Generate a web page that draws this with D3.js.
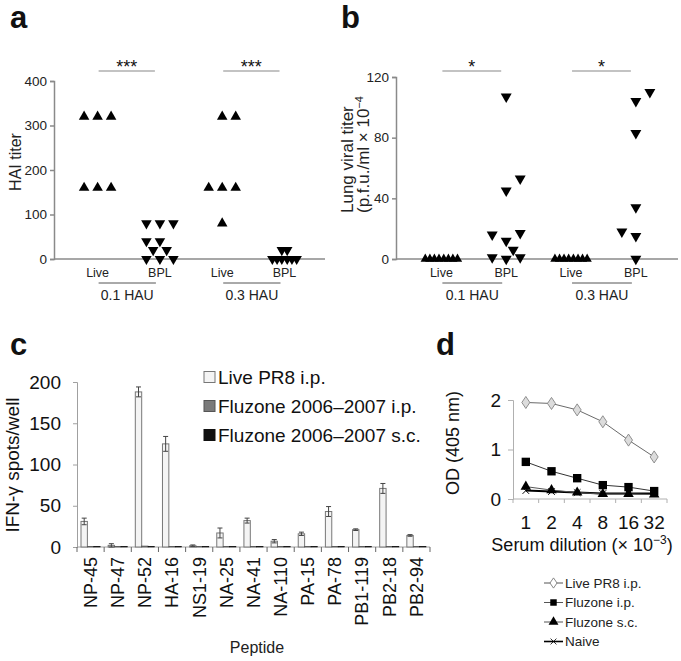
<!DOCTYPE html>
<html><head><meta charset="utf-8">
<script src="https://cdn.jsdelivr.net/npm/d3@7"></script>
<style>
html,body{margin:0;padding:0;background:#fff;}
svg{display:block;font-family:"Liberation Sans",Arial,Helvetica,sans-serif;}
</style></head>
<body><svg id="chart" width="681" height="661"></svg>
<script>
// ---------- Panel a: HAI titer ----------
const groupsAB = ["Live", "BPL", "Live", "BPL"];
const doseLabels = ["0.1 HAU", "0.3 HAU"];
const haiTicks = [0, 100, 200, 300, 400];
const haiLive01 = [320, 320, 320, 160, 160, 160];
const haiLive01Col = [-1, 0, 1, -1, 0, 1];
const haiBPL01 = [80, 80, 80, 40, 40, 20, 20, 0, 0, 0];
const haiBPL01Col = [-1, 0, 1, -1, 0, -0.5, 0.5, -1, 0, 1];
const haiLive03 = [320, 320, 160, 160, 160, 80];
const haiLive03Col = [0, 1, -1, 0, 1, 0];
const haiBPL03 = [20, 20, 0, 0, 0, 0, 0, 0];
const haiBPL03Col = [-0.2, 0.2, -0.9, -0.55, -0.2, 0.2, 0.55, 0.9];
const sigA = ["***", "***"];

// ---------- Panel b: Lung viral titer ----------
const lungTicks = [0, 40, 80, 120];
const lungLive01 = [0, 0, 0, 0, 0, 0, 0, 0];
const lungLive01Col = [-1.15, -0.82, -0.5, -0.17, 0.17, 0.5, 0.82, 1.15];
const lungBPL01 = [107, 45, 53, 16, 12, 6, 17, 1, 0, 1];
const lungBPL01Col = [0, 0, 1, -1, 0, 0.5, 1, -1, 0, 1];
const lungLive03 = [0, 0, 0, 0, 0, 0, 0, 0];
const lungLive03Col = [-1.15, -0.82, -0.5, -0.17, 0.17, 0.5, 0.82, 1.15];
const lungBPL03 = [110, 104, 83, 34, 18, 15, 0];
const lungBPL03Col = [1, 0, 0, 0, -1, 0, 0];
const sigB = ["*", "*"];

// ---------- Panel c: IFN-gamma ELISPOT ----------
const peptides = ["NP-45","NP-47","NP-52","HA-16","NS1-19","NA-25","NA-41","NA-110","PA-15","PA-78","PB1-119","PB2-18","PB2-94"];
const seriesC = ["Live PR8 i.p.", "Fluzone 2006\u20132007 i.p.", "Fluzone 2006\u20132007 s.c."];
const liveC = [31, 2, 188, 125, 1.5, 17, 32, 7, 16, 43, 21, 71, 14];
const liveCErr = [4, 2, 6, 9, 1, 6, 3, 2, 2, 6, 1, 6, 1];
const ipC = [0.5, 0.5, 1.2, 0.5, 0.5, 0.5, 0.5, 0.5, 0.5, 0.5, 0.5, 0.5, 0.5];
const scC = [0.5, 0.5, 0.5, 0.5, 0.5, 0.5, 0.5, 0.5, 0.5, 0.5, 0.5, 0.5, 0.5];
const ticksC = [0, 50, 100, 150, 200];

// ---------- Panel d: ELISA ----------
const dilutions = ["1", "2", "4", "8", "16", "32"];
const seriesD = ["Live PR8 i.p.", "Fluzone i.p.", "Fluzone s.c.", "Naive"];
const odLive = [1.95, 1.93, 1.80, 1.56, 1.19, 0.85];
const odFluIP = [0.75, 0.56, 0.42, 0.28, 0.24, 0.16];
const odFluSC = [0.25, 0.18, 0.13, 0.10, 0.10, 0.09];
const odNaive = [0.17, 0.15, 0.13, 0.11, 0.11, 0.11];
const ticksD = [0, 1, 2];

const svg = d3.select("#chart");
const FONT = '"Liberation Sans",Arial,Helvetica,sans-serif';

function panelLabel(t, x, y) {
  svg.append("text").attr("x", x).attr("y", y).attr("font-size", 31)
    .attr("font-weight", "bold").attr("fill", "#111").text(t);
}
panelLabel("a", 10, 28);
panelLabel("b", 341, 28);
panelLabel("c", 10, 355);
panelLabel("d", 436, 355);

// ---------- dot plot helper for a & b ----------
function dotPanel(opt) {
  const g = svg.append("g");
  const x = d3.scaleLinear().domain([-0.7, 3.65]).range(opt.xr);
  const y = d3.scaleLinear().domain([0, opt.ymax]).range([259, opt.ytop]);
  const axisCol = "#8a8a8a";
  const ya = g.append("g").attr("transform", `translate(${opt.xr[0]},0)`)
    .call(d3.axisLeft(y).tickValues(opt.ticks).tickSize(4).tickPadding(3));
  ya.select(".domain").attr("stroke", axisCol).attr("stroke-width", 1.5);
  ya.selectAll(".tick line").attr("stroke", axisCol).attr("stroke-width", 1.5);
  ya.selectAll(".tick text").attr("font-size", 13.5).attr("font-family", FONT).attr("fill", "#222");
  g.append("line").attr("x1", opt.xr[0]).attr("x2", opt.xr[1]).attr("y1", y(0)).attr("y2", y(0))
    .attr("stroke", axisCol).attr("stroke-width", 1.5);
  groupsAB.forEach((t, i) => {
    g.append("text").attr("x", x(i)).attr("y", 277).attr("text-anchor", "middle")
      .attr("font-size", 12.5).attr("font-family", FONT).attr("fill", "#222").text(t);
  });
  doseLabels.forEach((t, k) => {
    const x0 = x(2 * k) + 1, x1 = x(2 * k + 1) - 4;
    g.append("line").attr("x1", x0).attr("x2", x1).attr("y1", 283).attr("y2", 283)
      .attr("stroke", "#555").attr("stroke-width", 1);
    g.append("text").attr("x", (x0 + x1) / 2).attr("y", 300).attr("text-anchor", "middle")
      .attr("font-size", 14).attr("font-family", FONT).attr("fill", "#222").text(t);
  });
  opt.sig.forEach((t, k) => {
    const x0 = x(2 * k) + 1, x1 = x(2 * k + 1) - 5;
    g.append("line").attr("x1", x0).attr("x2", x1).attr("y1", 71).attr("y2", 71)
      .attr("stroke", "#888").attr("stroke-width", 1.2);
    g.append("text").attr("x", (x0 + x1) / 2).attr("y", 73).attr("text-anchor", "middle")
      .attr("font-size", 18).attr("font-family", FONT).attr("fill", "#111").text(t);
  });
  opt.sets.forEach(s => {
    const sym = d3.symbol().type(d3.symbolTriangle).size(s.size)();
    s.vals.forEach((v, i) => {
      const cx = x(s.group) + s.cols[i] * opt.colW;
      const cy = y(v);
      g.append("path").attr("d", sym)
        .attr("transform", `translate(${cx},${cy})` + (s.down ? " rotate(180)" : ""))
        .attr("fill", "#000");
    });
  });
  opt.ylab(g);
}

dotPanel({
  xr: [54, 325], ymax: 400, ytop: 81, ticks: haiTicks, sig: sigA, colW: 13.5,
  sets: [
    {group: 0, vals: haiLive01, cols: haiLive01Col, down: false, size: 48},
    {group: 1, vals: haiBPL01, cols: haiBPL01Col, down: true, size: 48},
    {group: 2, vals: haiLive03, cols: haiLive03Col, down: false, size: 48},
    {group: 3, vals: haiBPL03, cols: haiBPL03Col, down: true, size: 48}
  ],
  ylab: g => g.append("text").attr("transform", "translate(21,162) rotate(-90)")
    .attr("text-anchor", "middle").attr("font-size", 16).attr("font-family", FONT)
    .attr("fill", "#222").text("HAI titer")
});

dotPanel({
  xr: [396, 678], ymax: 120, ytop: 77, ticks: lungTicks, sig: sigB, colW: 14,
  sets: [
    {group: 0, vals: lungLive01, cols: lungLive01Col, down: false, size: 38},
    {group: 1, vals: lungBPL01, cols: lungBPL01Col, down: true, size: 52},
    {group: 2, vals: lungLive03, cols: lungLive03Col, down: false, size: 38},
    {group: 3, vals: lungBPL03, cols: lungBPL03Col, down: true, size: 52}
  ],
  ylab: g => {
    g.append("text").attr("transform", "translate(353,213) rotate(-90)")
      .attr("text-anchor", "start").attr("font-size", 17).attr("font-family", FONT)
      .attr("fill", "#222").text("Lung viral titer");
    const t = g.append("text").attr("transform", "translate(369,213) rotate(-90)")
      .attr("text-anchor", "start").attr("font-size", 17).attr("font-family", FONT)
      .attr("fill", "#222");
    t.append("tspan").text("(p.f.u./ml \u00d7 10");
    t.append("tspan").attr("dy", -6).attr("font-size", 11).text("\u22124");
  }
});

// ---------- Panel c ----------
{
  const g = svg.append("g");
  const x0 = d3.scaleBand().domain(peptides).range([77, 430]).padding(0);
  const bw = x0.bandwidth();
  const x1 = d3.scaleBand().domain(seriesC).range([4, bw - 4]).padding(0);
  const y = d3.scaleLinear().domain([0, 200]).range([547, 382]);
  const axisCol = "#a0a0a0";
  const ya = g.append("g").attr("transform", "translate(77,0)")
    .call(d3.axisLeft(y).tickValues(ticksC).tickSize(4).tickPadding(12));
  ya.select(".domain").attr("stroke", axisCol);
  ya.selectAll(".tick line").attr("stroke", axisCol);
  ya.selectAll(".tick text").attr("font-size", 19).attr("font-family", FONT).attr("fill", "#111");
  g.append("line").attr("x1", 77).attr("x2", 430).attr("y1", y(0)).attr("y2", y(0)).attr("stroke", axisCol);
  peptides.concat(["_end"]).forEach((p, i) => {
    const xx = 77 + i * bw;
    g.append("line").attr("x1", xx).attr("x2", xx).attr("y1", y(0)).attr("y2", y(0) + 5).attr("stroke", "#666");
  });
  const colors = {fill: ["#f4f4f4", "#7a7a7a", "#111"], stroke: ["#777", "#555", "#111"]};
  const vals = [liveC, ipC, scC];
  seriesC.forEach((s, k) => {
    peptides.forEach((p, i) => {
      const v = vals[k][i];
      g.append("rect").attr("x", x0(p) + x1(s)).attr("width", x1.bandwidth())
        .attr("y", y(v)).attr("height", y(0) - y(v))
        .attr("fill", colors.fill[k]).attr("stroke", colors.stroke[k]).attr("stroke-width", k === 0 ? 1 : 0.6);
    });
  });
  peptides.forEach((p, i) => {
    const cx = x0(p) + x1(seriesC[0]) + x1.bandwidth() / 2;
    const hi = y(liveC[i] + liveCErr[i]), lo = y(Math.max(0, liveC[i] - liveCErr[i]));
    g.append("line").attr("x1", cx).attr("x2", cx).attr("y1", hi).attr("y2", lo).attr("stroke", "#444");
    [hi, lo].forEach(yy => g.append("line").attr("x1", cx - 2.5).attr("x2", cx + 2.5)
      .attr("y1", yy).attr("y2", yy).attr("stroke", "#444"));
  });
  peptides.forEach(p => {
    g.append("text").attr("transform", `translate(${x0(p) + bw / 2},557) rotate(-90)`)
      .attr("text-anchor", "end").attr("dy", "0.35em").attr("font-size", 18)
      .attr("font-family", FONT).attr("fill", "#111").text(p);
  });
  g.append("text").attr("x", 257).attr("y", 653).attr("text-anchor", "middle")
    .attr("font-size", 16).attr("font-family", FONT).attr("fill", "#222").text("Peptide");
  g.append("text").attr("transform", "translate(19,465) rotate(-90)").attr("text-anchor", "middle")
    .attr("font-size", 19).attr("font-family", FONT).attr("fill", "#111").text("IFN-\u03b3 spots/well");
  seriesC.forEach((s, k) => {
    const cy = 377 + k * 29;
    g.append("rect").attr("x", 204).attr("y", cy - 5.5).attr("width", 11).attr("height", 11)
      .attr("fill", colors.fill[k]).attr("stroke", colors.stroke[k]);
    g.append("text").attr("x", 218).attr("y", cy + 7).attr("font-size", 19)
      .attr("font-family", FONT).attr("fill", "#111").text(s);
  });
}

// ---------- Panel d ----------
{
  const g = svg.append("g");
  const x = d3.scaleBand().domain(dilutions).range([513, 667]).padding(0);
  const bw = x.bandwidth();
  const y = d3.scaleLinear().domain([0, 2]).range([499, 400]);
  const axisCol = "#b0b0b0";
  const ya = g.append("g").attr("transform", "translate(513,0)")
    .call(d3.axisLeft(y).tickValues(ticksD).tickFormat(d3.format("d")).tickSize(5).tickPadding(7));
  ya.select(".domain").attr("stroke", axisCol);
  ya.selectAll(".tick line").attr("stroke", axisCol);
  ya.selectAll(".tick text").attr("font-size", 19).attr("font-family", FONT).attr("fill", "#111");
  g.append("line").attr("x1", 513).attr("x2", 667).attr("y1", y(0)).attr("y2", y(0)).attr("stroke", axisCol);
  dilutions.concat(["_e"]).forEach((dd, i) => {
    const xx = 513 + i * bw;
    g.append("line").attr("x1", xx).attr("x2", xx).attr("y1", y(0)).attr("y2", y(0) + 4).attr("stroke", axisCol);
  });
  dilutions.forEach(dd => {
    g.append("text").attr("x", x(dd) + bw / 2).attr("y", 529).attr("text-anchor", "middle")
      .attr("font-size", 19).attr("font-family", FONT).attr("fill", "#111").text(dd);
  });
  const xl = g.append("text").attr("x", 582).attr("y", 551).attr("text-anchor", "middle")
    .attr("font-size", 18).attr("font-family", FONT).attr("fill", "#111");
  xl.append("tspan").text("Serum dilution (\u00d7 10");
  xl.append("tspan").attr("dy", -7).attr("font-size", 12).text("\u22123");
  xl.append("tspan").attr("dy", 7).text(")");
  g.append("text").attr("transform", "translate(459,443) rotate(-90)").attr("text-anchor", "middle")
    .attr("font-size", 18).attr("font-family", FONT).attr("fill", "#111").text("OD (405 nm)");

  const cfg = [
    {vals: odLive, line: "#6a6a6a", lw: 1, sym: d3.symbolDiamond, size: 42, fill: "#dcdcdc", stroke: "#808080"},
    {vals: odFluIP, line: "#333", lw: 1, sym: d3.symbolSquare, size: 70, fill: "#000", stroke: "none"},
    {vals: odFluSC, line: "#555", lw: 1, sym: d3.symbolTriangle, size: 48, fill: "#000", stroke: "none"},
    {vals: odNaive, line: "#000", lw: 2, sym: d3.symbolX, size: 30, fill: "none", stroke: "#000"}
  ];
  const line = d3.line().x((v, i) => x(dilutions[i]) + bw / 2).y(v => y(v));
  [3, 2, 1, 0].forEach(k => {
    const c = cfg[k];
    g.append("path").attr("d", line(c.vals)).attr("fill", "none").attr("stroke", c.line).attr("stroke-width", c.lw);
  });
  [3, 2, 1, 0].forEach(k => {
    const c = cfg[k];
    const p = d3.symbol().type(c.sym).size(c.size)();
    c.vals.forEach((v, i) => {
      g.append("path").attr("d", p)
        .attr("transform", `translate(${x(dilutions[i]) + bw / 2},${y(v)})` + (c.sym === d3.symbolDiamond ? " scale(1.15,1)" : ""))
        .attr("fill", c.fill).attr("stroke", c.stroke).attr("stroke-width", c.sym === d3.symbolX ? 1 : 0.8);
    });
  });
  seriesD.forEach((s, k) => {
    const c = cfg[k];
    const cy = 583 + k * 19.5;
    g.append("line").attr("x1", 544).attr("x2", 563).attr("y1", cy).attr("y2", cy)
      .attr("stroke", k === 3 ? "#000" : "#555").attr("stroke-width", k === 3 ? 1.6 : 1);
    const p = d3.symbol().type(c.sym).size(k === 0 ? 30 : (k === 3 ? 24 : 42))();
    g.append("path").attr("d", p).attr("transform", `translate(553.5,${cy})` + (k === 0 ? " scale(1.2,1)" : ""))
      .attr("fill", k === 0 ? "#fff" : c.fill).attr("stroke", k === 0 ? "#777" : c.stroke).attr("stroke-width", 0.8);
    g.append("text").attr("x", 565).attr("y", cy + 4.5).attr("font-size", 13.5)
      .attr("font-family", FONT).attr("fill", "#222").text(s);
  });
}
</script>
</body></html>
